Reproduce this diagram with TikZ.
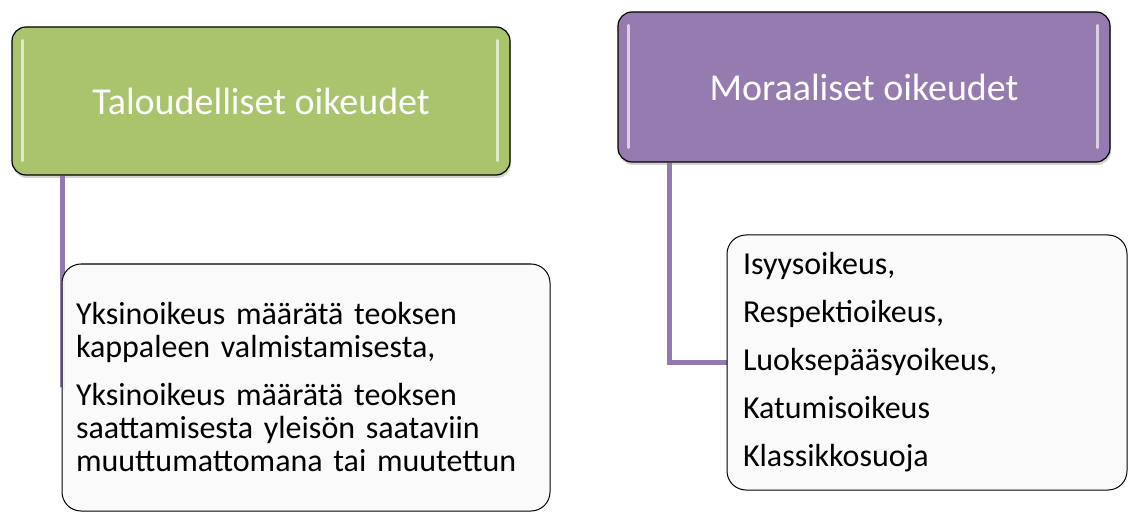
\documentclass[tikz,border=0pt]{standalone}
\usepackage{fontspec}
\setmainfont{Carlito}
\usetikzlibrary{shadows, backgrounds}
\definecolor{olivegreen}{HTML}{A9C46C}
\definecolor{lavender}{HTML}{957BB0}
\definecolor{connpurple}{HTML}{9379B2}

\begin{document}
\begin{tikzpicture}[x=1pt, y=-1pt,
    topbox/.style={draw=black, line width=1.2pt, rounded corners=14pt, text=white,
        font=\fontsize{38}{46}\selectfont,
        drop shadow={shadow xshift=1pt, shadow yshift=-3pt, opacity=.35}},
    listbox/.style={draw=black, line width=1pt, rounded corners=19pt, fill=white!98!black,
        fill opacity=.92, text opacity=1, align=left, font=\fontsize{32}{33}\selectfont},
    gloss/.style={white, opacity=.65, line width=3pt, line cap=round},
    conn/.style={connpurple, line width=5pt}]
    \useasboundingbox (0, 0) rectangle (1130, 513);
    \node[topbox, fill=olivegreen, minimum width=498pt, minimum height=148pt](econ) at (261, 101){Taloudelliset oikeudet};
    \node[topbox, fill=lavender, minimum width=492pt, minimum height=150pt](moral) at (864, 87){Moraaliset oikeudet};
    \draw[gloss]([xshift=11pt, yshift=-14pt]econ.north west)--([xshift=11pt, yshift=15pt]econ.south west);
    \draw[gloss]([xshift=-13pt, yshift=-14pt]econ.north east)--([xshift=-13pt, yshift=15pt]econ.south east);
    \draw[gloss]([xshift=11pt, yshift=-14pt]moral.north west)--([xshift=11pt, yshift=15pt]moral.south west);
    \draw[gloss]([xshift=-13pt, yshift=-14pt]moral.north east)--([xshift=-13pt, yshift=15pt]moral.south east);
    \node[listbox, text width=460pt, inner xsep=14pt, minimum height=247pt](econlist) at (306, 387.5){%
        Yksinoikeus määrätä teoksen\\ kappaleen valmistamisesta,\\[15pt]
        Yksinoikeus määrätä teoksen\\ saattamisesta yleisön saataviin\\ muuttumattomana tai muutettun};
    \node[listbox, text width=368pt, inner xsep=16pt, minimum height=255pt](morallist) at (927, 362.5){%
        Isyysoikeus,\\[15pt] Respektioikeus,\\[15pt] Luoksepääsyoikeus,\\[15pt]
        Katumisoikeus\\[15pt] Klassikkosuoja};
    \begin{scope}[on background layer]
        \draw[conn]([xshift=51pt]econ.south west)|-(econlist.west);
        \draw[conn]([xshift=52pt]moral.south west)|-(morallist.west);
    \end{scope}
\end{tikzpicture}
\end{document}
